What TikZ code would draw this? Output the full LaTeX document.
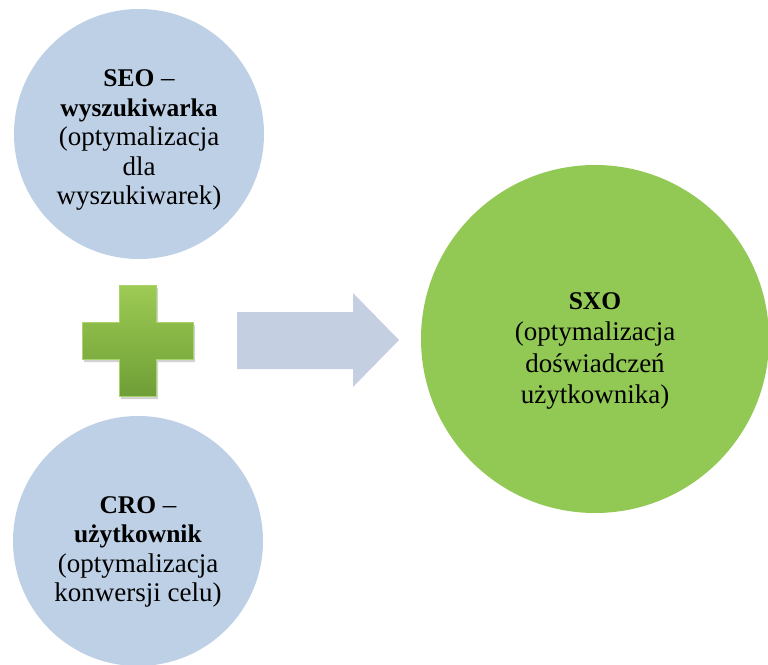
\documentclass[tikz,border=0pt]{standalone}
\usepackage{fontspec}
\setmainfont{Liberation Serif}
\usetikzlibrary{shadows,shadings}
\definecolor{paleblue}{RGB}{190,208,230}
\definecolor{arrowblue}{RGB}{196,207,226}
\definecolor{leafgreen}{RGB}{146,200,84}
\definecolor{plustop}{RGB}{158,203,84}
\definecolor{plusbot}{RGB}{110,158,54}
\definecolor{plusedge}{RGB}{170,210,110}
\newcommand{\headline}[1]{{\fontsize{25.5}{29.5}\selectfont\bfseries #1}}
\tikzset{
  disc/.style={circle, inner sep=0pt},
  smalldisc/.style={disc, fill=paleblue, minimum size=250pt},
  bigdisc/.style={disc, fill=leafgreen, minimum size=348pt},
  caption/.style={inner sep=0pt, align=center, text=black,
    font=\fontsize{27}{29.5}\selectfont},
  bigcaption/.style={caption, font=\fontsize{27}{31.5}\selectfont},
}
\begin{document}
\begin{tikzpicture}[x=1pt,y=-1pt]
  \useasboundingbox[fill=white] (0,0) rectangle (768,664);

  % input circles
  \node[smalldisc] (seo) at (139,134) {};
  \node[smalldisc] (cro) at (138,541) {};
  % result circle
  \node[bigdisc] (sxo) at (595,339) {};

  % circle texts
  \node[caption] (seotext) at ([yshift=-6pt]seo.center)
    {\headline{SEO} –\\ \headline{wyszukiwarka}\\ (optymalizacja\\ dla\\ wyszukiwarek)};
  \node[caption] (crotext) at ([yshift=-11pt]cro.center)
    {\headline{CRO} –\\ \headline{użytkownik}\\ (optymalizacja\\ konwersji celu)};
  \node[bigcaption] (sxotext) at ([yshift=-12pt]sxo.center)
    {\headline{SXO}\\ (optymalizacja\\ doświadczeń\\ użytkownika)};

  % plus sign between the two inputs
  \shadedraw[draw=plusedge, line width=0.6pt,
        top color=plustop, bottom color=plusbot,
        drop shadow={opacity=0.35, shadow xshift=2pt, shadow yshift=-3pt}]
    (119,285) -- (156,285) -- (156,322) -- (193,322) -- (193,359)
    -- (156,359) -- (156,396) -- (119,396) -- (119,359) -- (82,359)
    -- (82,322) -- (119,322) -- cycle;

  % block arrow towards the result
  \fill[arrowblue]
    (237,312) -- (353,312) -- (353,293) -- (399,340) -- (353,387)
    -- (353,369) -- (237,369) -- cycle;
\end{tikzpicture}
\end{document}
